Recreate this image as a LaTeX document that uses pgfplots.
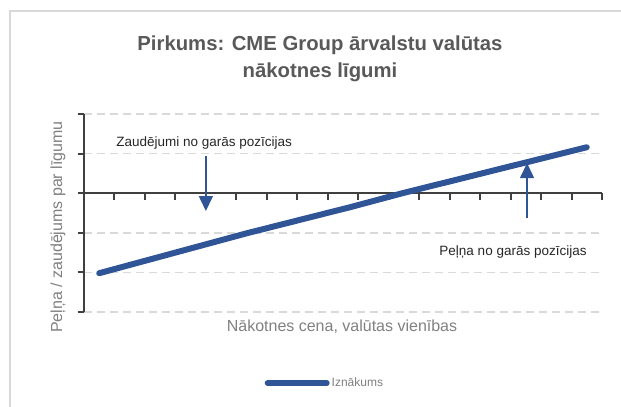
\documentclass[border=0pt]{standalone}
\usepackage{fontspec}
\setmainfont{Liberation Sans}
\usepackage{pgfplots}
\pgfplotsset{compat=1.18}
\usetikzlibrary{arrows.meta}
\definecolor{lineblue}{RGB}{47,85,151}
\definecolor{axisgray}{RGB}{64,64,64}
\definecolor{gridgray}{RGB}{217,217,217}
\definecolor{titlegray}{RGB}{89,89,89}
\definecolor{labelgray}{RGB}{128,128,128}
\definecolor{framegray}{RGB}{217,217,217}
\begin{document}
\begin{tikzpicture}
\useasboundingbox (0,0) rectangle (621bp,-407bp);
\draw[framegray, line width=1.5bp] (10bp,-407bp) -- (10bp,-11bp) -- (621bp,-11bp);
\node[anchor=base, text=titlegray, font=\fontsize{20.3bp}{24bp}\selectfont\bfseries] at (320bp,-50bp) {Pirkums: CME Group ārvalstu valūtas};
\node[anchor=base, text=titlegray, font=\fontsize{20.3bp}{24bp}\selectfont\bfseries] at (320bp,-77bp) {nākotnes līgumi};
\node[rotate=90, text=labelgray, font=\fontsize{16bp}{19bp}\selectfont] at (58bp,-227bp) {Peļņa / zaudējums par līgumu};
\node[anchor=base, text=labelgray, font=\fontsize{16bp}{19bp}\selectfont] at (342bp,-331bp) {Nākotnes cena, valūtas vienības};
\begin{axis}[
  at={(84bp,-312bp)}, anchor=south west,
  scale only axis, width=518bp, height=198bp,
  xmin=0, xmax=17, ymin=-3, ymax=2,
  axis y line*=left, axis x line*=middle,
  axis line style={-, color=axisgray, line width=1.6bp},
  xtick={0,...,17}, xticklabels={},
  ytick={-3,...,2}, yticklabels={},
  tick align=outside,
  major tick length=6.5bp,
  every tick/.style={color=axisgray, line width=2bp},
  every major tick/.append style={color=axisgray, line width=2bp},
  major tick style={color=axisgray, line width=2bp},
  ymajorgrids,
  grid style={gridgray, line width=1.5bp, dash pattern=on 8bp off 5bp},
  clip=false,
  legend style={at={(0.465,-0.359)}, anchor=center, draw=none, fill=none,
    font=\fontsize{12bp}{14bp}\selectfont, text=labelgray},
  legend image code/.code={\draw[#1, line width=4bp, line cap=round] (2bp,0bp) -- (55bp,0bp); \path (0bp,0bp) -- (59bp,0bp);},
]
\addplot[color=lineblue, line width=6bp, line cap=round, line join=round] coordinates {
  (0.5,-2.02) (5.35,-1.01) (8.75,-0.35) (10.45,0) (16.5,1.16)
};
\addlegendentry{Iznākums}
\addplot[forget plot, color=lineblue, line width=1.5bp, -{Triangle[width=14bp,length=15bp]}] coordinates {(4.0,0.95) (4.0,-0.45)};
\addplot[forget plot, color=lineblue, line width=1.5bp, -{Triangle[width=14bp,length=15bp]}] coordinates {(14.54,-0.63) (14.54,0.76)};
\node[font=\fontsize{13.5bp}{16bp}\selectfont, text=black!85] at (axis cs:3.94,1.28) {Zaudējumi no garās pozīcijas};
\node[font=\fontsize{13.5bp}{16bp}\selectfont, text=black!85] at (axis cs:14.08,-1.49) {Peļņa no garās pozīcijas};
\end{axis}
\end{tikzpicture}
\end{document}
